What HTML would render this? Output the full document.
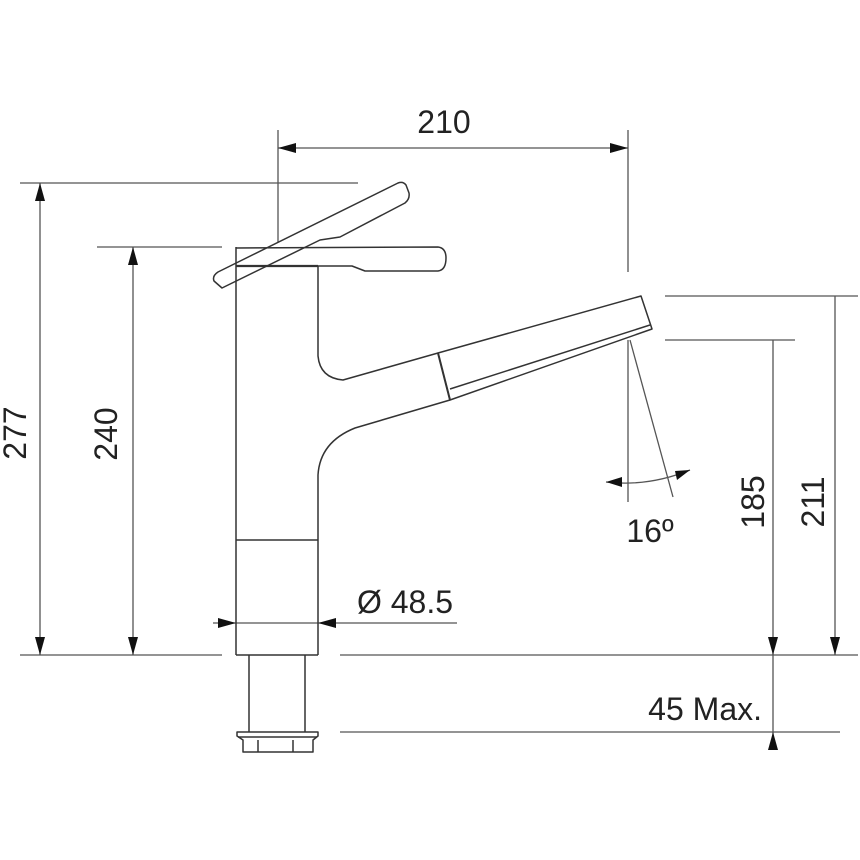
<!DOCTYPE html>
<html><head><style>
html,body{margin:0;padding:0;background:#fff;}
svg{display:block;}
text{font-family:"Liberation Sans",sans-serif;font-size:32px;fill:#222;}
</style></head><body>
<svg width="860" height="860" viewBox="0 0 860 860" xmlns="http://www.w3.org/2000/svg">
<g stroke="#555" stroke-width="1.3" fill="none">
<line x1="20" y1="183" x2="358" y2="183"/>
<line x1="97" y1="247" x2="222" y2="247"/>
<line x1="278" y1="130" x2="278" y2="242"/>
<line x1="628" y1="130" x2="628" y2="272"/>
<line x1="665" y1="296" x2="858" y2="296"/>
<line x1="665" y1="340" x2="795" y2="340"/>
<line x1="20" y1="655" x2="222" y2="655"/>
<line x1="340" y1="655" x2="858" y2="655"/>
<line x1="340" y1="732" x2="840" y2="732"/>
<line x1="278" y1="148" x2="628" y2="148"/>
<line x1="40" y1="183" x2="40" y2="655"/>
<line x1="133" y1="247" x2="133" y2="655"/>
<line x1="835" y1="296" x2="835" y2="655"/>
<line x1="773" y1="340" x2="773" y2="750"/>
<line x1="213" y1="623" x2="457" y2="623"/>
<line x1="628" y1="340" x2="628" y2="502"/>
<line x1="630" y1="340" x2="673" y2="497"/>
<path d="M606 482 Q648 487 690 470"/>
</g>
<g fill="#111">
<polygon points="278,148 296,143 296,153"/>
<polygon points="628,148 610,143 610,153"/>
<polygon points="40,183 35,201 45,201"/>
<polygon points="40,655 35,637 45,637"/>
<polygon points="133,247 128,265 138,265"/>
<polygon points="133,655 128,637 138,637"/>
<polygon points="835,655 830,637 840,637"/>
<polygon points="773,655 768,637 778,637"/>
<polygon points="773,732 768,750 778,750"/>
<polygon points="236,623 218,618 218,628"/>
<polygon points="318,623 336,618 336,628"/>
<polygon points="606,482 622,477 622,487"/>
<polygon points="690,470 675,471 677,480"/>
</g>
<g stroke="#333" stroke-width="1.5" fill="none" stroke-linejoin="round">
<line x1="236" y1="247" x2="236" y2="655"/>
<line x1="236" y1="655" x2="318" y2="655"/>
<line x1="236" y1="540" x2="318" y2="540"/>
<line x1="318" y1="475" x2="318" y2="655"/>
<path d="M236 248 L438 247 Q446 248 446 258 Q446 270 438 271 L365 271 L352 266 L318 266"/>
<line x1="236" y1="266" x2="318" y2="266" stroke-width="2.2"/>
<path d="M318 266 L318 356 Q320 378 343 380 L438 353"/>
<path d="M450 400 L355 428 Q320 442 318 475"/>
<path d="M438 353 L641 296 L652 329 L450 400 Z"/>
<line x1="438" y1="353" x2="450" y2="400" stroke-width="2"/>
<line x1="450" y1="389" x2="650" y2="325"/>
<path d="M222 288 L214 281 Q212 276 218 272 L398 183 Q403 181 406 185 L409 193 Q410 199 405 203 L340 237 L320 240 Z"/>
<line x1="249" y1="655" x2="249" y2="732"/>
<line x1="305" y1="655" x2="305" y2="732"/>
<path d="M237 732 L318 732 L318 736 L313 740 L313 752 L243 752 L243 740 L237 736 Z"/>
<line x1="238" y1="737" x2="317" y2="737"/>
<line x1="258" y1="740" x2="258" y2="752"/>
<line x1="293" y1="740" x2="293" y2="752"/>
</g>
<text x="444" y="133" text-anchor="middle">210</text>
<text transform="translate(26,433) rotate(-90)" text-anchor="middle">277</text>
<text transform="translate(117,434) rotate(-90)" text-anchor="middle">240</text>
<text transform="translate(764,502) rotate(-90)" text-anchor="middle">185</text>
<text transform="translate(824,502) rotate(-90)" text-anchor="middle">211</text>
<text x="405" y="613" text-anchor="middle">Ø 48.5</text>
<text x="650" y="542" text-anchor="middle">16º</text>
<text x="762" y="720" text-anchor="end">45 Max.</text>
</svg>
</body></html>
